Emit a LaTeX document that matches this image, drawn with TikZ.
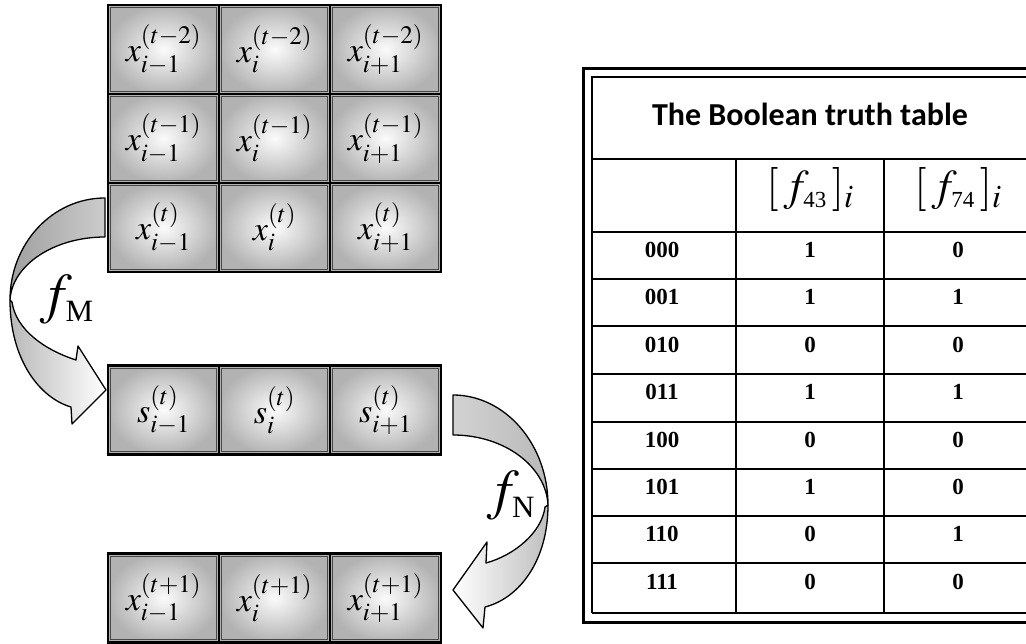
\documentclass[tikz,border=0pt]{standalone}
\usepackage{mathptmx}
\usepackage{fontspec}
\setmainfont{Liberation Serif}
\newfontfamily\titlefont{Carlito}
% sized script text for the larger labels
\newcommand{\scr}[2]{\hbox{\fontsize{#1}{#1}\selectfont #2}}
\begin{document}
\begin{tikzpicture}[x=1pt,y=-1pt,
  cell/.style={draw=black, line width=2.6pt, shading=radial, inner color=gray!3,
    outer color=gray!60, minimum width=111pt, minimum height=89pt, inner sep=0pt,
    font=\fontsize{34}{38}\selectfont},
  innerframe/.style={draw=gray!55!black, line width=1.1pt},
  band/.style={draw=black, line width=1.3pt, line join=round},
  flabel/.style={inner sep=0pt, font=\fontsize{56}{60}\selectfont},
  rule/.style={line width=1.2pt},
  bin/.style={inner sep=0pt, font=\fontsize{23}{25}\selectfont\bfseries},
  head/.style={inner sep=0pt, font=\fontsize{44}{48}\selectfont}]
\clip (0,0) rectangle (1026,644);

% ---- state grid x^{(t-2)}, x^{(t-1)}, x^{(t)} ----
\node[cell] (a1) at (163.5,49.5)  {$x_{i-1}^{(t-2)}$};
\node[cell] (a2) at (274.5,49.5)  {$x_{i}^{(t-2)}$};
\node[cell] (a3) at (385.5,49.5)  {$x_{i+1}^{(t-2)}$};
\node[cell] (b1) at (163.5,138.5) {$x_{i-1}^{(t-1)}$};
\node[cell] (b2) at (274.5,138.5) {$x_{i}^{(t-1)}$};
\node[cell] (b3) at (385.5,138.5) {$x_{i+1}^{(t-1)}$};
\node[cell] (c1) at (163.5,227.5) {$x_{i-1}^{(t)}$};
\node[cell] (c2) at (274.5,227.5) {$x_{i}^{(t)}$};
\node[cell] (c3) at (385.5,227.5) {$x_{i+1}^{(t)}$};
% ---- intermediate row s^{(t)} ----
\node[cell] (s1) at (163.5,410) {$s_{i-1}^{(t)}$};
\node[cell] (s2) at (274.5,410) {$s_{i}^{(t)}$};
\node[cell] (s3) at (385.5,410) {$s_{i+1}^{(t)}$};
% ---- next state x^{(t+1)} ----
\node[cell] (d1) at (163.5,598) {$x_{i-1}^{(t+1)}$};
\node[cell] (d2) at (274.5,598) {$x_{i}^{(t+1)}$};
\node[cell] (d3) at (385.5,598) {$x_{i+1}^{(t+1)}$};

\foreach \n in {a1,a2,a3,b1,b2,b3,c1,c2,c3,s1,s2,s3,d1,d2,d3}
  \draw[innerframe] ([shift={(4,4)}]\n.north west) rectangle ([shift={(-4,-4)}]\n.south east);

% ---- curved arrow f_M (left) ----
\draw[band, left color=gray!75, right color=gray!40]
  (105,198) .. controls (52,198) and (10,244) .. (10,300)
  .. controls (12,265) and (54,237) .. (105,237) -- cycle;
\draw[band, left color=gray!55, right color=white]
  (10,300) .. controls (10,360) and (40,398) .. (71,407)
  -- (72,424) -- (106,390) -- (78,346) -- (76,360)
  .. controls (45,350) and (16,330) .. (12,302) -- cycle;
\node[flabel] (fm) at (67,300) {$f_{\scr{31}{M}}$};

% ---- curved arrow f_N (right) ----
\draw[band, left color=gray!35, right color=gray!55]
  (453,395) .. controls (505,395) and (548,444) .. (548,505)
  .. controls (546,466) and (504,435) .. (453,435) -- cycle;
\draw[band, left color=white, right color=gray!50]
  (548,505) .. controls (548,560) and (520,598) .. (485,607)
  -- (483,628) -- (453,590) -- (487,542) -- (486,563)
  .. controls (515,555) and (542,532) .. (545,507) -- cycle;
\node[flabel] (fn) at (511,496) {$f_{\scr{31}{N}}$};

% ---- truth table frame ----
\draw[line width=3pt] (1040,69) -- (583,69) -- (583,622) -- (1040,622);
\draw[rule] (1040,77) -- (592,77) -- (592,613);
\draw[line width=2pt] (592,613) -- (1040,613);
\foreach \yy in {159,232,279,326,374,422,469,516,563}
  \draw[rule] (592,\yy) -- (1040,\yy);
\draw[rule] (736,159) -- (736,613);
\draw[rule] (884,159) -- (884,613);

\node[anchor=base, inner sep=0pt, font=\titlefont\bfseries\fontsize{32}{36}\selectfont]
  (title) at (810,126) {The Boolean truth table};
\node[head] (h43) at (810,190) {$[\,f_{\scr{23}{43}}\,]_{i}$};
\node[head] (h74) at (958,190) {$[\,f_{\scr{23}{74}}\,]_{i}$};

\foreach \k/\lab/\p/\q in {0/000/1/0, 1/001/1/1, 2/010/0/0, 3/011/1/1,
                          4/100/0/0, 5/101/1/0, 6/110/0/1, 7/111/0/0} {
  \node[bin] (in\k) at (662,250+47.4*\k) {\lab};
  \node[bin] (p\k)  at (810,250+47.4*\k) {\p};
  \node[bin] (q\k)  at (958,250+47.4*\k) {\q};
}
\end{tikzpicture}
\end{document}
